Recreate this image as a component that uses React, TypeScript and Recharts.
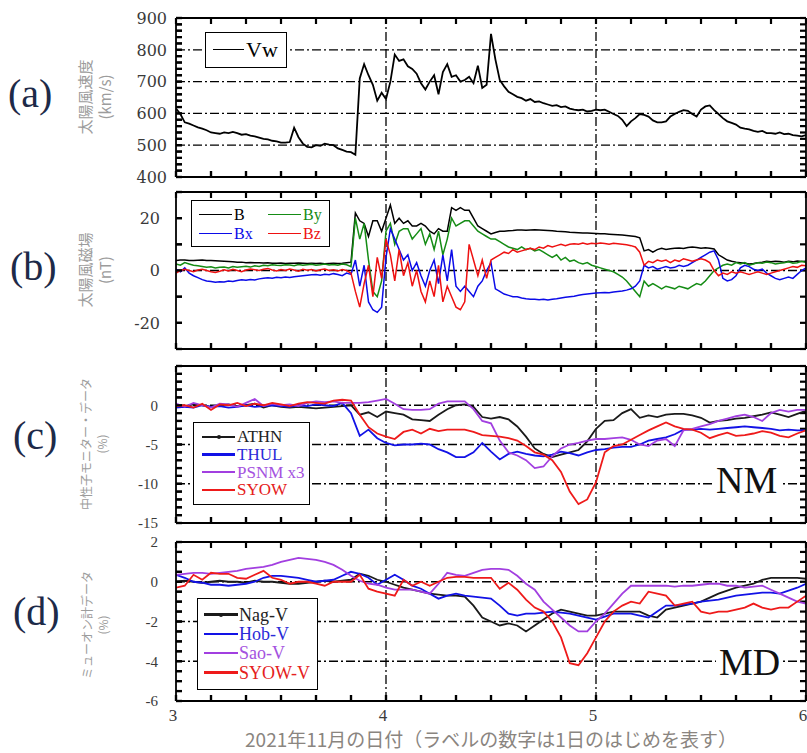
import React from 'react';
import { LineChart, Line, XAxis, YAxis, ReferenceLine, Legend } from 'recharts';

// ---------------- data ----------------
const START_DAY = 3;
const SW_STEP = 1 / 48; // solar wind samples (30 min)
const CR_STEP = 1 / 24; // cosmic ray samples (1 h)

// (a) solar wind speed Vw [km/s]
const vw = [
  615, 598, 572, 568, 562, 556, 552, 547, 540, 538, 536, 540,
  538, 542, 538, 533, 535, 530, 528, 524, 520, 518, 514, 512,
  508, 508, 510, 555, 525, 505, 495, 493, 500, 498, 505, 502,
  500, 490, 485, 480, 478, 470, 710, 755, 720, 690, 640, 665,
  645, 700, 785, 765, 770, 748, 740, 725, 695, 675, 700, 720,
  660, 730, 755, 715, 720, 700, 705, 715, 695, 750, 680, 690,
  850, 770, 705, 685, 668, 660, 652, 648, 640, 645, 636, 638,
  632, 628, 624, 626, 620, 622, 615, 612, 610, 612, 606, 608,
  612, 610, 612, 605, 598, 592, 580, 560, 575, 585, 598, 595,
  590, 578, 572, 572, 575, 590, 598, 605, 610, 608, 598, 590,
  612, 622, 625, 610, 598, 585, 575, 570, 565, 555, 552, 550,
  545, 542, 545, 538, 538, 536, 540, 535, 536, 532, 530, 528,
  532,
];

// (b) IMF [nT]
const bMag = [
  3.8, 4, 4, 3.8, 3.8, 3.9, 4, 3.8, 3.8, 3.7, 3.6, 3.5,
  3.4, 3.3, 3.2, 3.2, 3, 3.1, 3, 3, 2.9, 3, 2.8, 2.8,
  2.9, 2.7, 2.8, 2.8, 2.9, 2.8, 2.7, 2.8, 2.7, 2.8, 2.6, 2.7,
  2.8, 2.7, 2.8, 3, 3.2, 22, 19, 18, 13, 19, 19, 15,
  20, 25, 18, 20, 18, 19, 17, 17, 18, 17, 15, 14,
  16, 15, 15, 24, 23, 24, 23, 23, 20, 17, 16, 15,
  14, 14.5, 15, 15, 15.2, 15.3, 15.5, 15.5, 15.4, 15.5, 15.6, 15.5,
  15.4, 15.3, 15.2, 15, 14.9, 14.8, 14.6, 14.5, 14.4, 14.3, 14.3, 14.2,
  14.1, 14, 14, 13.9, 13.8, 13.7, 13.6, 13.4, 13.2, 13, 12.5, 7.5,
  8, 7, 8, 8.5, 8, 8.3, 8.5, 8.6, 8.4, 8.8, 9, 8.8,
  8.5, 8.7, 8.5, 8.2, 6, 5, 4, 3.5, 3.2, 3, 2.8, 2.5,
  2.7, 3, 3.2, 3.5, 3.3, 3.5, 3.4, 3.2, 3.5, 3.3, 3.6, 3.4,
  3.5,
];
const bx = [
  0.5, -0.5, 1, -1, -2, -2.7, -3.5, -4, -4.2, -4.5, -4.3, -4.4,
  -4, -4.2, -3.8, -3.5, -3.7, -3.4, -3.6, -3.2, -3, -2.8, -3, -2.6,
  -2.8, -2.5, -2.7, -2.4, -2.2, -2, -1.8, -1.6, -1.5, -1.8, -1.4, -1.6,
  -1.2, -1.5, -2, -1, -1.5, 4, -6, 2, -12, -15, -16, -14,
  5, 16, 12, 8, 4, 6, 0, 3, -2, -6, 0, 4,
  -5, 6, -4, 8, -6, -8, -6, -8, -10, -6, -4, 0,
  3, -7, -8, -9, -9.5, -10, -10, -10.5, -10.8, -11, -11, -11.2,
  -11, -11.3, -11, -10.8, -10.5, -10.2, -10, -9.8, -9.5, -9.2, -9, -8.8,
  -8.6, -8.5, -8.4, -8.5, -8.2, -8, -7.8, -7.5, -7, -6, -4, 2,
  1, 1.5, 0.5, 1, 1.5, 1, 1.2, 2, 1.5, 2, 3, 4,
  5, 6, 7, 7.5, 4, -3, -4, -3.5, -2, 1, 2, 1.5,
  0.5, 0, 0.5, -1, -2, -3, -3.5, -3, -2.5, -3, -1.5, 0,
  1,
];
const by = [
  2.5, 2, 3, 2.5, 2, 1.8, 1.5, 1.2, 1.4, 1, 1.2, 1.3,
  1, 1.5, 1.2, 1.4, 1.6, 1.3, 1.8, 1.5, 2, 1.8, 2.2, 2,
  1.9, 2.2, 2.1, 1.8, 2.3, 2, 2.2, 2.4, 2, 2.2, 2.5, 2.1,
  2.3, 2, 2.5, 2.2, 1.5, 20, 12, 18, 4, -8, -10, -4,
  15, 18, 10, 15, 16, 16, 12, 14, 16, 10, 14, 8,
  15, 6, 12, 20, 17, 18, 19, 19, 17, 15, 14, 13,
  12, 12, 11, 10, 9, 8.5, 8, 9, 8, 8.5, 7.5, 8,
  7, 6, 5, 6, 4, 5, 3.5, 4, 3, 2.5, 3, 2,
  1.5, 1, 0.5, 0, -0.5, -1.5, -2.5, -4, -6, -8, -10, -4,
  -6, -5, -6, -7, -6, -6.5, -7, -6, -6.5, -7, -6, -5,
  -5.5, -4, -2, 0, 1, 2, 2.5, 2, 3, 2.5, 3, 2,
  2.5, 3, 2.8, 3.2, 3, 2.5, 2.8, 3, 3.3, 2.8, 3, 3.5,
  3,
];
const bz = [
  -1, 0, 0.5, 0, -0.5, 0.2, 0.5, 0, -0.5, -0.8, -0.3, 0.3,
  -0.2, 0.5, 0, -0.5, 0.2, 0.6, 0.3, 0, 0.5, 0.8, 0.2, -0.2,
  0.4, 0, 0.6, 0.2, -0.3, 0.5, 0.1, 0.4, -0.2, 0.3, 0.6, 0,
  0.3, -0.2, 0.4, 0, -1, -8, -14, -5, 2, -10, 5, -3,
  12, 6, -4, 8, -2, 3, -6, 0, -8, -12, -4, -10,
  2, -12, -6, -10, -14, -15, -12, 10, 4, -2, 4, -3,
  4, 5, 6, 7, 6.5, 8, 7, 7.5, 8, 8.5, 8, 9,
  8.5, 9.5, 9, 9.5, 10, 9.5, 10, 10.2, 10, 10.5, 10, 10.4,
  10.2, 10.5, 10.3, 10, 10.4, 10.2, 10, 9.8, 9.5, 9, 7, 2,
  3.5, 3, 4, 3.5, 4, 3, 4, 3.5, 4.5, 4, 3.5, 4,
  4.5, 4, 3, 0, -2, -1, -1.5, -0.5, -1, -0.5, -1, -1.5,
  -1, -0.5, -1, -1.5, -1, -0.5, 0, 0.5, 1, 1.5, 1.2, 2,
  1.8,
];

// (c) neutron monitors [%]
const athn = [
  0, -0.1, 0.1, 0, -0.2, 0, 0.1, -0.1, 0, 0.2, -0.3, 0,
  -0.2, -0.3, -0.2, -0.3, -0.4, -0.3, -0.2, -0.1, 0, -1.2, -0.9, -1.5,
  -0.8, -1.0, -1.2, -1.8, -1.9, -2.0, -1.2, -0.5, 0, 0.1, -0.2, -1.5,
  -1.7, -1.5, -1.8, -2.7, -4.0, -5.5, -6.2, -6.6, -6.3, -6.0, -5.7, -4.6,
  -3.0, -2.0, -1.9, -1.0, -0.5, -1.6, -1.3, -1.5, -1.2, -1.1, -1.1, -1.3,
  -1.6, -2.2, -2.0, -1.9, -1.7, -1.6, -1.4, -1.2, -0.9, -1.2, -1.5, -1.1,
  -0.7,
];
const thul = [
  -0.3, -0.2, -0.3, 0, -0.2, -0.1, -0.3, -0.2, 0, -0.2, -0.1, 0,
  -0.1, -0.2, 0, -0.1, 0.1, 0, -0.1, 0.3, -1.0, -3.9, -3.1, -4.2,
  -4.8, -5.1, -5.0, -5.0, -4.9, -5.0, -5.6, -6.0, -6.6, -6.6, -6.0, -4.8,
  -5.9, -6.9, -6.2, -5.9, -6.2, -6.4, -6.5, -6.3, -5.9, -6.1, -6.4, -6.0,
  -5.7, -5.6, -5.4, -5.3, -5.3, -5.0, -4.5, -4.3, -4.1, -3.7, -3.1, -3.1,
  -3.0, -3.1, -3.0, -2.9, -2.8, -2.7, -2.8, -2.9, -3.0, -3.2, -3.1, -3.2,
  -3.2,
];
const psnm = [
  0.2, -0.2, 0.3, 0, -0.3, 0.2, 0.1, -0.2, 0.3, 0.8, -0.1, 0.2,
  0, 0.1, -0.1, 0.3, 0.5, 0.4, 0.5, 0.3, 0.3, 0.3, 0.4, 0.6,
  0.8, 0.2, -0.5, -0.6, -0.6, -0.5, 0.2, 0.5, 0.5, 0.5, -0.5, -2.0,
  -2.3, -4.5, -6.0, -6.4, -7.0, -8.0, -7.8, -6.5, -5.5, -5.0, -4.8, -4.5,
  -4.3, -4.3, -4.2, -4.1, -4.4, -5.0, -5.2, -4.5, -4.3, -5.2, -3.2, -3.0,
  -2.7, -2.4, -2.0, -1.7, -1.4, -1.2, -1.5, -2.0, -1.0, -0.6, -0.8, -0.6,
  -0.6,
];
const syow = [
  -0.1, 0, -0.3, 0.2, -0.6, 0.1, 0, 0.3, -0.1, 0.2, 0, 0.3,
  0.1, -0.1, 0.2, 0.4, 0.3, 0.2, 0.6, 0.7, 0.6, -1.2, -2.8, -3.6,
  -4.0, -4.3, -3.4, -3.1, -3.6, -3.0, -3.3, -3.1, -3.1, -3.1, -3.4, -3.8,
  -3.9, -4.0, -4.2, -4.5, -5.2, -6.0, -6.3, -7.0, -8.5, -11.0, -12.6, -12.0,
  -9.8, -6.0, -5.2, -5.0, -4.4, -3.8, -3.2, -2.7, -2.2, -2.7, -3.0, -3.1,
  -3.5, -4.2, -3.8, -3.5, -3.9, -3.8, -3.6, -3.3, -3.5, -3.9, -4.1, -3.6,
  -3.2,
];

// (d) muon detectors [%]
const nagV = [
  0, 0.05, 0, -0.05, 0, 0.05, 0, 0, -0.05, 0.05, 0, 0,
  -0.05, -0.1, -0.1, -0.05, 0, 0.05, 0, 0.05, 0.1, 0.4, 0.3, 0.1,
  0, -0.15, -0.3, -0.4, -0.5, -0.6, -0.65, -0.7, -0.7, -0.75, -1.2, -1.8,
  -2.0, -2.2, -2.1, -2.2, -2.5, -2.2, -1.9, -1.6, -1.4, -1.5, -1.6, -1.7,
  -1.7, -1.6, -1.5, -1.5, -1.5, -1.5, -1.7, -1.8, -1.4, -1.3, -1.2, -1.1,
  -1.0, -0.8, -0.6, -0.45, -0.3, -0.2, -0.1, 0.1, 0.2, 0.2, 0.2, 0.2,
  0.15,
];
const hobV = [
  0.35, 0.2, 0, -0.05, -0.15, -0.15, -0.2, -0.15, -0.1, 0, 0.2, 0.3,
  0.3, 0.25, 0.2, 0.1, 0, 0.05, 0.1, 0.3, 0.5, 0.4, 0.2, -0.15,
  0.1, 0.35, 0.1, -0.2, -0.35, -0.6, -0.85, -0.7, -0.6, -0.7, -0.75, -0.8,
  -0.85, -1.2, -1.6, -1.7, -1.6, -1.6, -1.55, -1.5, -1.55, -1.6, -1.7, -1.8,
  -1.9, -1.75, -1.6, -1.6, -1.6, -1.7, -1.8, -1.5, -1.2, -1.2, -1.15, -1.1,
  -1.0, -0.95, -0.9, -0.8, -0.7, -0.65, -0.6, -0.55, -0.55, -0.6, -0.45, -0.3,
  -0.1,
];
const saoV = [
  0.35, 0.4, 0.45, 0.45, 0.4, 0.45, 0.5, 0.55, 0.65, 0.7, 0.75, 0.85,
  1.0, 1.1, 1.2, 1.15, 1.1, 1.0, 0.85, 0.6, 0.3, 0.05, -0.1, -0.15,
  -0.3, -0.4, -0.4, -0.4, -0.5, -0.6, -0.1, 0.45, 0.35, 0.3, 0.45, 0.6,
  0.65, 0.65, 0.6, 0.3, -0.1, -0.4, -1.0, -1.4, -1.8, -2.2, -2.5, -2.5,
  -2.0, -1.6, -1.1, -0.6, -0.2, -0.2, -0.2, -0.2, -0.2, -0.25, -0.2, -0.2,
  -0.15, -0.1, -0.1, -0.2, -0.2, -0.3, -0.25, -0.2, -0.4, -0.6, -0.8, -1.0,
  -1.1,
];
const syowV = [
  -0.3, -0.2, 0.35, 0.1, 0.45, 0.4, 0.4, 0.2, 0.15, 0.35, 0.55, 0.2,
  0.1, -0.1, 0, 0, -0.1, -0.2, 0, 0, 0, 0.35, -0.35, -0.5,
  -0.6, -0.7, 0.1, -0.2, 0, -0.2, 0, 0.2, 0.25, 0.25, 0.2, 0.2,
  0.2, -0.35, -0.05, -0.4, -0.9, -1.3, -1.5, -2.0, -2.8, -4.1, -4.2, -3.6,
  -2.8, -2.0, -1.5, -1.2, -1.0, -1.1, -0.5, -0.6, -0.7, -1.2, -1.1, -1.0,
  -1.5, -1.6, -1.5, -1.5, -1.4, -1.3, -1.1, -1.3, -1.4, -1.3, -1.3, -1.0,
  -0.7,
];

// event markers (day of November 2021)
const EVENT_SHOCK = 3.852;
const EVENT_P1 = 4.51;
const EVENT_P2 = 5.224;

// axes
const X_TICKS = Array.from({ length: 19 }, (_, k) => 3 + k / 6);
const X_LABELS = [3, 4, 5, 6];
const X_GRID = [4, 5];
const X_TITLE = '2021年11月の日付（ラベルの数字は1日のはじめを表す）';

const VW_TICKS = Array.from({ length: 26 }, (_, k) => 400 + k * 20);
const VW_LABELS = [400, 500, 600, 700, 800, 900];
const VW_GRID = [500, 600, 700, 800];

const IMF_TICKS = [-30, -20, -10, 0, 10, 20, 30];
const IMF_LABELS = [-20, 0, 20];
const IMF_GRID = [0];

const NM_TICKS = Array.from({ length: 21 }, (_, k) => -15 + k);
const NM_LABELS = [0, -5, -10, -15];
const NM_GRID = [0, -5, -10];

const MD_TICKS = Array.from({ length: 17 }, (_, k) => -6 + k * 0.5);
const MD_LABELS = [2, 0, -2, -4, -6];
const MD_GRID = [0, -2, -4];

// tables built from the arrays
const vwData = vw.map((v, i) => ({ t: START_DAY + i * SW_STEP, vw: v }));
const imfData = bMag.map((v, i) => ({ t: START_DAY + i * SW_STEP, B: v, Bx: bx[i], By: by[i], Bz: bz[i] }));
const nmData = athn.map((v, i) => ({ t: START_DAY + i * CR_STEP, ATHN: v, THUL: thul[i], PSNM: psnm[i], SYOW: syow[i] }));
const mdData = nagV.map((v, i) => ({ t: START_DAY + i * CR_STEP, NagV: v, HobV: hobV[i], SaoV: saoV[i], SyowV: syowV[i] }));
const eventData = [{ t: EVENT_SHOCK }, { t: EVENT_P1 }, { t: EVENT_P2 }];

// ---------------- styling ----------------
const SERIF = '"Liberation Serif", "Times New Roman", serif';
const WIDE_SERIF = '"DejaVu Serif", "Liberation Serif", serif';
const CJK = '"Noto Sans CJK JP", "Noto Sans", sans-serif';
const AXIS_LINE = { stroke: '#000', strokeWidth: 1.8 };
const GRID_DASH = '9 3 2 3';
const TICK_PX = 6; // inward tick length in pixels
const TICK_W = 2.2;
const LABEL_COLOR = '#3a3a3a';
const PLOT_W = 630;
const X_DOMAIN: [number, number] = [3, 6];

const IMF_SERIES = [
  { key: 'B', label: 'B', color: '#000000' },
  { key: 'By', label: 'By', color: '#158c15' },
  { key: 'Bx', label: 'Bx', color: '#0b0be8' },
  { key: 'Bz', label: 'Bz', color: '#ee1111' },
];
const NM_SERIES = [
  { key: 'ATHN', label: 'ATHN', color: '#1a1a1a', text: '#222', dot: true },
  { key: 'THUL', label: 'THUL', color: '#1212e6', text: '#2a2ad8' },
  { key: 'PSNM', label: 'PSNM x3', color: '#a23fe0', text: '#a452e0' },
  { key: 'SYOW', label: 'SYOW', color: '#ee1a1a', text: '#e52020' },
];
const MD_SERIES = [
  { key: 'NagV', label: 'Nag-V', color: '#1a1a1a', text: '#222', dot: true },
  { key: 'HobV', label: 'Hob-V', color: '#1212e6', text: '#2a2ad8' },
  { key: 'SaoV', label: 'Sao-V', color: '#a23fe0', text: '#a452e0' },
  { key: 'SyowV', label: 'SYOW-V', color: '#ee1a1a', text: '#e52020' },
];

const near = (a: number, b: number) => Math.abs(a - b) < 1e-6;

// tick renderers (tickSize 0 => x/y sit exactly on the frame): inward mark + label
function bottomTick(show: boolean) {
  return (props: any) => {
    const x = Number(props.x);
    const y = Number(props.y);
    const v = props.payload.value as number;
    const lab = show && X_LABELS.some((l) => near(l, v)) ? String(Math.round(v)) : '';
    return (
      <g>
        <path d={`M${x},${y}V${y - TICK_PX}`} stroke="#000" strokeWidth={TICK_W} fill="none" />
        {lab ? (
          <text x={x - 3} y={y + 20} textAnchor="middle" fontFamily={SERIF} fontSize={17} fill={LABEL_COLOR}>
            {lab}
          </text>
        ) : null}
      </g>
    );
  };
}
function leftTick(labels: number[], font: string, size: number, gap: number) {
  return (props: any) => {
    const x = Number(props.x);
    const y = Number(props.y);
    const v = props.payload.value as number;
    const lab = labels.some((l) => near(l, v)) ? String(v) : '';
    return (
      <g>
        <path d={`M${x},${y}H${x + TICK_PX}`} stroke="#000" strokeWidth={TICK_W} fill="none" />
        {lab ? (
          <text x={x - gap} y={y} dy="0.36em" textAnchor="end" fontFamily={font} fontSize={size} fill={LABEL_COLOR}>
            {lab}
          </text>
        ) : null}
      </g>
    );
  };
}

// inward tick marks on all four sides of the frame (axis decoration)
function frameTicks(yDomain: [number, number], yTicks: number[], plotH: number) {
  const [y0, y1] = yDomain;
  const dy = (TICK_PX / plotH) * (y1 - y0);
  const dx = (TICK_PX / PLOT_W) * (X_DOMAIN[1] - X_DOMAIN[0]);
  const out: React.ReactElement[] = [];
  X_TICKS.forEach((v, k) => {
    out.push(
      <ReferenceLine key={'tb' + k} segment={[{ x: v, y: y0 }, { x: v, y: y0 + dy }]} stroke="#000" strokeWidth={TICK_W} ifOverflow="visible" />,
      <ReferenceLine key={'tt' + k} segment={[{ x: v, y: y1 - dy }, { x: v, y: y1 }]} stroke="#000" strokeWidth={TICK_W} ifOverflow="visible" />,
    );
  });
  yTicks.forEach((v, k) => {
    out.push(
      <ReferenceLine key={'tl' + k} segment={[{ x: X_DOMAIN[0], y: v }, { x: X_DOMAIN[0] + dx, y: v }]} stroke="#000" strokeWidth={TICK_W} ifOverflow="visible" />,
      <ReferenceLine key={'tr' + k} segment={[{ x: X_DOMAIN[1] - dx, y: v }, { x: X_DOMAIN[1], y: v }]} stroke="#000" strokeWidth={TICK_W} ifOverflow="visible" />,
    );
  });
  return out;
}

type AxesCfg = {
  yDomain: [number, number];
  yTicks: number[];
  yLabels: number[];
  labelGap: number;
  labelFont: string;
  labelSize: number;
  showX: boolean;
};

function panelAxes(cfg: AxesCfg) {
  const { yDomain, yTicks, yLabels, labelGap, labelFont, labelSize, showX } = cfg;
  return [
    <XAxis
      key="xb"
      dataKey="t"
      type="number"
      domain={X_DOMAIN}
      allowDataOverflow
      ticks={X_TICKS}
      interval={0}
      height={1}
      tickSize={0}
      tickMargin={0}
      axisLine={AXIS_LINE}
      tickLine={false}
      tick={bottomTick(showX)}
      label={
        showX
          ? { value: X_TITLE, position: 'bottom', offset: 32, fill: '#8a8580', fontSize: 19, fontFamily: CJK }
          : undefined
      }
    />,
    <XAxis
      key="xt"
      xAxisId="top"
      orientation="top"
      dataKey="t"
      type="number"
      domain={X_DOMAIN}
      allowDataOverflow
      height={1}
      tick={false}
      tickLine={false}
      axisLine={AXIS_LINE}
    />,
    <YAxis
      key="yl"
      type="number"
      domain={yDomain}
      allowDataOverflow
      ticks={yTicks}
      interval={0}
      width={40}
      tickSize={0}
      tickMargin={0}
      axisLine={AXIS_LINE}
      tickLine={false}
      tick={leftTick(yLabels, labelFont, labelSize, labelGap)}
    />,
    <YAxis
      key="yr"
      yAxisId="right"
      orientation="right"
      type="number"
      domain={yDomain}
      allowDataOverflow
      width={1}
      tick={false}
      tickLine={false}
      axisLine={AXIS_LINE}
    />,
  ];
}

function gridLines(yVals: number[]) {
  return [
    ...X_GRID.map((x) => (
      <ReferenceLine key={'gx' + x} x={x} stroke="#000" strokeWidth={1.3} strokeDasharray={GRID_DASH} />
    )),
    ...yVals.map((y) => (
      <ReferenceLine key={'gy' + y} y={y} stroke="#000" strokeWidth={1.3} strokeDasharray={GRID_DASH} />
    )),
  ];
}

type LItem = { label: string; color: string; text?: string; dot?: boolean };
type LegendBoxProps = {
  items: LItem[];
  cols: number;
  width: number;
  height: number;
  padTop: number;
  padLeft: number;
  rowH: number;
  colW: number;
  lineLen: number;
  lineW: number;
  gap: number;
  fontSize: number;
};

function LegendBox(p: LegendBoxProps) {
  return (
    <div
      style={{
        width: p.width,
        height: p.height,
        boxSizing: 'border-box',
        border: '1.5px solid #000',
        background: '#fff',
        paddingTop: p.padTop,
        paddingLeft: p.padLeft,
        fontFamily: SERIF,
        fontSize: p.fontSize,
        lineHeight: 1,
      }}
    >
      <div
        style={{
          display: 'grid',
          gridTemplateColumns: `repeat(${p.cols}, ${p.colW}px)`,
          gridAutoRows: `${p.rowH}px`,
        }}
      >
        {p.items.map((it) => (
          <div key={it.label} style={{ display: 'flex', alignItems: 'center', whiteSpace: 'nowrap' }}>
            <span
              style={{
                position: 'relative',
                display: 'inline-block',
                width: p.lineLen,
                height: p.lineW,
                background: it.color,
                marginRight: p.gap,
              }}
            >
              {it.dot ? (
                <span
                  style={{
                    position: 'absolute',
                    left: p.lineLen / 2 - 2,
                    top: p.lineW / 2 - 2,
                    width: 4,
                    height: 4,
                    borderRadius: 2,
                    background: it.color,
                  }}
                />
              ) : null}
            </span>
            <span style={{ color: it.text ?? it.color }}>{it.label}</span>
          </div>
        ))}
      </div>
    </div>
  );
}

function VTitle({ cx, cy, lines, fontSize, lineH }: { cx: number; cy: number; lines: string[]; fontSize: number; lineH: number }) {
  return (
    <div
      style={{
        position: 'absolute',
        left: cx,
        top: cy,
        transform: 'translate(-50%, -50%) rotate(-90deg)',
        whiteSpace: 'nowrap',
        textAlign: 'center',
        fontFamily: CJK,
        fontSize,
        lineHeight: `${lineH}px`,
        color: '#9c9c9c',
      }}
    >
      {lines.map((l) => (
        <div key={l}>{l}</div>
      ))}
    </div>
  );
}

function PanelLetter({ text, left, top }: { text: string; left: number; top: number }) {
  return (
    <div
      style={{
        position: 'absolute',
        left,
        top,
        fontFamily: SERIF,
        fontSize: 40,
        lineHeight: '40px',
        color: '#1d2a48',
      }}
    >
      {text}
    </div>
  );
}

function BigTag({ text, left, top }: { text: string; left: number; top: number }) {
  return (
    <div
      style={{
        position: 'absolute',
        left,
        top,
        fontFamily: SERIF,
        fontSize: 38,
        lineHeight: '38px',
        color: '#111',
        background: '#fff',
        padding: '0 3px',
      }}
    >
      {text}
    </div>
  );
}

const legendPos = (left: number, top: number, width: number) => ({ left, top, width, height: 'auto' });

export default function App() {
  return (
    <div
      style={{
        position: 'absolute',
        left: 0,
        top: 0,
        width: 807,
        height: 753,
        background: '#fff',
        overflow: 'hidden',
      }}
    >
      {/* (a) solar wind speed */}
      <div style={{ position: 'absolute', left: 0, top: 0 }}>
        <LineChart width={807} height={192} data={vwData} margin={{ top: 17, right: 0, bottom: 14, left: 136 }}>
          {panelAxes({
            yDomain: [400, 900],
            yTicks: VW_TICKS,
            yLabels: VW_LABELS,
            labelGap: 9,
            labelFont: WIDE_SERIF,
            labelSize: 16,
            showX: false,
          })}
          {gridLines(VW_GRID)}
          {frameTicks([400, 900], VW_TICKS, 159)}
          <Line dataKey="vw" name="Vw" type="linear" stroke="#000" strokeWidth={1.8} dot={false} isAnimationActive={false} />
          <Legend
            layout="horizontal"
            verticalAlign="middle"
            align="center"
            wrapperStyle={legendPos(205, 32, 82)}
            content={() => (
              <LegendBox
                items={[{ label: 'Vw', color: '#000' }]}
                cols={1}
                width={82}
                height={36}
                padTop={0}
                padLeft={7}
                rowH={33}
                colW={74}
                lineLen={31}
                lineW={1.5}
                gap={2}
                fontSize={22}
              />
            )}
          />
        </LineChart>
      </div>

      {/* (b) IMF */}
      <div style={{ position: 'absolute', left: 0, top: 183 }}>
        <LineChart width={807} height={182} data={imfData} margin={{ top: 8, right: 0, bottom: 15, left: 136 }}>
          {panelAxes({
            yDomain: [-30, 30],
            yTicks: IMF_TICKS,
            yLabels: IMF_LABELS,
            labelGap: 16,
            labelFont: WIDE_SERIF,
            labelSize: 16,
            showX: false,
          })}
          {gridLines(IMF_GRID)}
          {frameTicks([-30, 30], IMF_TICKS, 157)}
          {IMF_SERIES.map((s) => (
            <Line
              key={s.key}
              dataKey={s.key}
              name={s.label}
              type="linear"
              stroke={s.color}
              strokeWidth={1.5}
              dot={false}
              isAnimationActive={false}
            />
          ))}
          <Legend
            layout="horizontal"
            verticalAlign="middle"
            align="center"
            wrapperStyle={legendPos(191, 17, 139)}
            content={() => (
              <LegendBox
                items={IMF_SERIES.map((s) => ({ label: s.label, color: s.color }))}
                cols={2}
                width={139}
                height={47}
                padTop={4}
                padLeft={7}
                rowH={19}
                colW={69}
                lineLen={33}
                lineW={1.5}
                gap={2}
                fontSize={16}
              />
            )}
          />
        </LineChart>
      </div>

      {/* (c) neutron monitors */}
      <div style={{ position: 'absolute', left: 0, top: 358 }}>
        <LineChart width={807} height={180} data={nmData} margin={{ top: 7, right: 0, bottom: 14, left: 136 }}>
          {panelAxes({
            yDomain: [-15, 5],
            yTicks: NM_TICKS,
            yLabels: NM_LABELS,
            labelGap: 18,
            labelFont: SERIF,
            labelSize: 15,
            showX: false,
          })}
          {gridLines(NM_GRID)}
          {frameTicks([-15, 5], NM_TICKS, 157)}
          {NM_SERIES.map((s) => (
            <Line
              key={s.key}
              dataKey={s.key}
              name={s.label}
              type="linear"
              stroke={s.color}
              strokeWidth={1.8}
              dot={false}
              isAnimationActive={false}
            />
          ))}
          <Legend
            layout="horizontal"
            verticalAlign="middle"
            align="center"
            wrapperStyle={legendPos(193, 64, 117)}
            content={() => (
              <LegendBox
                items={NM_SERIES.map((s) => ({ label: s.label, color: s.color, text: s.text, dot: s.dot }))}
                cols={1}
                width={117}
                height={83}
                padTop={5}
                padLeft={8}
                rowH={17.7}
                colW={108}
                lineLen={33}
                lineW={2.5}
                gap={2}
                fontSize={17}
              />
            )}
          />
        </LineChart>
      </div>

      {/* (d) muon detectors */}
      <div style={{ position: 'absolute', left: 0, top: 533 }}>
        <LineChart width={807} height={220} data={mdData} margin={{ top: 8, right: 0, bottom: 51, left: 136 }}>
          {panelAxes({
            yDomain: [-6, 2],
            yTicks: MD_TICKS,
            yLabels: MD_LABELS,
            labelGap: 18,
            labelFont: SERIF,
            labelSize: 15,
            showX: true,
          })}
          {gridLines(MD_GRID)}
          {frameTicks([-6, 2], MD_TICKS, 159)}
          {MD_SERIES.map((s) => (
            <Line
              key={s.key}
              dataKey={s.key}
              name={s.label}
              type="linear"
              stroke={s.color}
              strokeWidth={1.8}
              dot={false}
              isAnimationActive={false}
            />
          ))}
          <Legend
            layout="horizontal"
            verticalAlign="middle"
            align="center"
            wrapperStyle={legendPos(197, 65, 121)}
            content={() => (
              <LegendBox
                items={MD_SERIES.map((s) => ({ label: s.label, color: s.color, text: s.text, dot: s.dot }))}
                cols={1}
                width={121}
                height={92}
                padTop={6}
                padLeft={6}
                rowH={19.3}
                colW={113}
                lineLen={34}
                lineW={2.5}
                gap={1}
                fontSize={18}
              />
            )}
          />
        </LineChart>
      </div>

      {/* event lines spanning all panels */}
      <div style={{ position: 'absolute', left: 0, top: 0, pointerEvents: 'none' }}>
        <LineChart width={807} height={753} data={eventData} margin={{ top: 18, right: 1, bottom: 52, left: 176 }}>
          <XAxis dataKey="t" type="number" domain={X_DOMAIN} allowDataOverflow hide />
          <YAxis type="number" domain={[0, 1]} hide />
          <ReferenceLine x={EVENT_SHOCK} stroke="#F07320" strokeWidth={2.6} />
          <ReferenceLine x={EVENT_P1} stroke="#9A35DA" strokeWidth={2.2} />
          <ReferenceLine x={EVENT_P2} stroke="#C08CEA" strokeWidth={2.2} />
        </LineChart>
      </div>

      {/* panel letters */}
      <PanelLetter text="(a)" left={8} top={74} />
      <PanelLetter text="(b)" left={10} top={247} />
      <PanelLetter text="(c)" left={13} top={416} />
      <PanelLetter text="(d)" left={13} top={592} />

      {/* y-axis titles */}
      <VTitle cx={95} cy={97} lines={['太陽風速度', '(km/s)']} fontSize={15} lineH={20} />
      <VTitle cx={95} cy={270} lines={['太陽風磁場', '(nT)']} fontSize={15} lineH={20} />
      <VTitle cx={94} cy={444} lines={['中性子モニター・データ', '(%)']} fontSize={12} lineH={16} />
      <VTitle cx={95} cy={625} lines={['ミューオン計データ', '(%)']} fontSize={12} lineH={16} />

      {/* panel tags */}
      <BigTag text="NM" left={713} top={461} />
      <BigTag text="MD" left={716} top={643} />
    </div>
  );
}
